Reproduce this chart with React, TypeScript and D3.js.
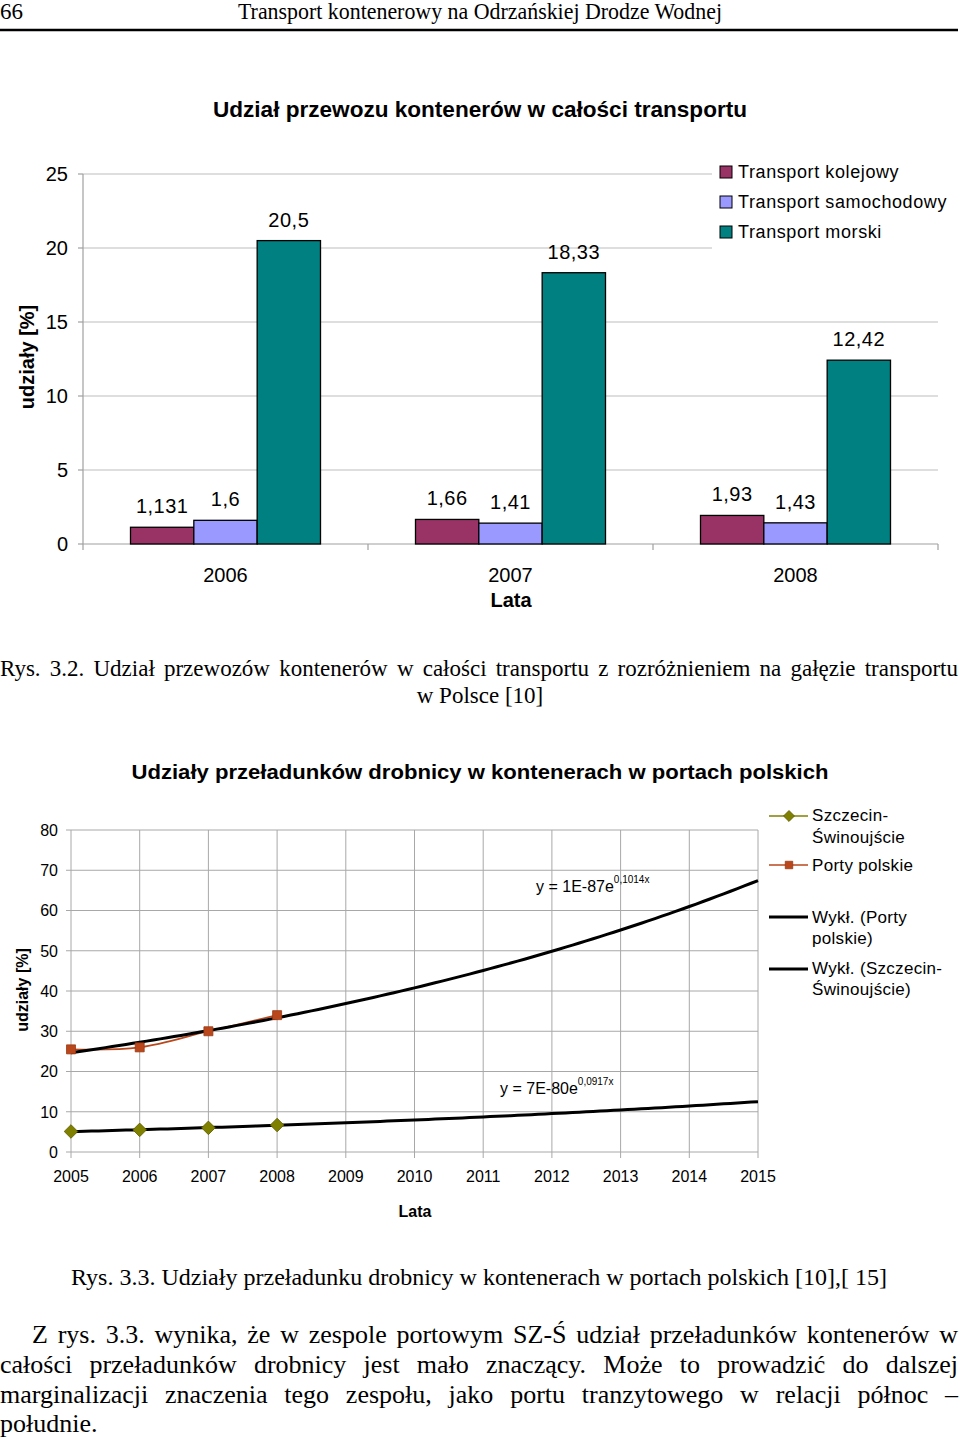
import React, { useEffect, useRef } from "react";
import * as d3 from "d3";

// ---------- Chart 1 data ----------
const years1 = ["2006", "2007", "2008"];
const series1 = ["Transport kolejowy", "Transport samochodowy", "Transport morski"];
const kolejowy = [1.131, 1.66, 1.93];
const samochodowy = [1.6, 1.41, 1.43];
const morski = [20.5, 18.33, 12.42];
const colors1 = ["#993366", "#9999FF", "#008080"];
const ticks1 = [0, 5, 10, 15, 20, 25];

// ---------- Chart 2 data ----------
const years2 = [2005, 2006, 2007, 2008, 2009, 2010, 2011, 2012, 2013, 2014, 2015];
const dataYears = [2005, 2006, 2007, 2008];
const portyPolskie = [25.5, 26.0, 30.0, 34.0];
const szczecinSwinoujscie = [5.1, 5.5, 6.0, 6.7];
const ticks2 = [0, 10, 20, 30, 40, 50, 60, 70, 80];
const eqPorty = ["y = 1E-87e", "0,1014x"];
const eqSzczecin = ["y = 7E-80e", "0,0917x"];

const SANS = "'Liberation Sans', Arial, sans-serif";
const SERIF = "'Liberation Serif', 'Times New Roman', serif";

const para = [
  "Z rys. 3.3. wynika, że w zespole portowym SZ-Ś udział przeładunków kontenerów w",
  "całości przeładunków drobnicy jest mało znaczący. Może to prowadzić do dalszej",
  "marginalizacji znaczenia tego zespołu, jako portu tranzytowego w relacji północ –",
  "południe.",
];

function expFit(xs: number[], ys: number[]) {
  const lx = xs.map((x) => x - xs[0]);
  const ly = ys.map((y) => Math.log(y));
  const mx = d3.mean(lx) as number;
  const my = d3.mean(ly) as number;
  let num = 0, den = 0;
  lx.forEach((x, i) => { num += (x - mx) * (ly[i] - my); den += (x - mx) * (x - mx); });
  const b = num / den;
  const a = my - b * mx;
  return (x: number) => Math.exp(a + b * (x - xs[0]));
}

export default function App() {
  const ref = useRef<SVGSVGElement>(null);
  useEffect(() => {
    const svg = d3.select(ref.current);
    svg.selectAll("*").remove();

    const justify = (text: string, x0: number, x1: number, y: number, size: number) => {
      const g = svg.append("g");
      const words = text.split(" ");
      const nodes = words.map((w) =>
        g.append("text").attr("y", y).attr("font-family", SERIF).attr("font-size", size).attr("fill", "#000").text(w)
      );
      const widths = nodes.map((n) => (n.node() as SVGTextElement).getComputedTextLength());
      const total = d3.sum(widths);
      const gap = words.length > 1 ? (x1 - x0 - total) / (words.length - 1) : 0;
      let x = x0;
      nodes.forEach((n, i) => { n.attr("x", x); x += widths[i] + gap; });
    };

    // ---------- Header ----------
    svg.append("text").attr("x", 0).attr("y", 19).attr("font-family", SERIF).attr("font-size", 23).text("66");
    svg.append("text").attr("x", 480).attr("y", 19).attr("text-anchor", "middle").attr("font-family", SERIF)
      .attr("font-size", 23).attr("textLength", 484).attr("lengthAdjust", "spacingAndGlyphs")
      .text("Transport kontenerowy na Odrzańskiej Drodze Wodnej");
    svg.append("line").attr("x1", 0).attr("x2", 958).attr("y1", 30).attr("y2", 30).attr("stroke", "#000").attr("stroke-width", 2.5);

    // ---------- Chart 1 ----------
    svg.append("text").attr("x", 480).attr("y", 117).attr("text-anchor", "middle").attr("font-family", SANS)
      .attr("font-weight", "bold").attr("font-size", 22).attr("textLength", 534).attr("lengthAdjust", "spacingAndGlyphs")
      .text("Udział przewozu kontenerów w całości transportu");

    const x0 = d3.scaleBand<string>().domain(years1).range([83, 938]).padding(0);
    const x1 = d3.scaleBand<string>().domain(series1).range([0, x0.bandwidth()]).paddingInner(0).paddingOuter(0.75);
    const y1 = d3.scaleLinear().domain([0, 25]).range([544, 174]);
    const g1 = svg.append("g");

    ticks1.forEach((t) => {
      if (t > 0) g1.append("line").attr("x1", 83).attr("x2", 938).attr("y1", y1(t)).attr("y2", y1(t)).attr("stroke", "#BDBDBD").attr("stroke-width", 1.2);
      g1.append("line").attr("x1", 78).attr("x2", 83).attr("y1", y1(t)).attr("y2", y1(t)).attr("stroke", "#A0A0A0").attr("stroke-width", 1.2);
      g1.append("text").attr("x", 68).attr("y", y1(t)).attr("dy", "0.36em").attr("text-anchor", "end")
        .attr("font-family", SANS).attr("font-size", 20).text(String(t));
    });
    g1.append("line").attr("x1", 83).attr("x2", 83).attr("y1", y1(25)).attr("y2", y1(0)).attr("stroke", "#A0A0A0").attr("stroke-width", 1.2);
    g1.append("line").attr("x1", 83).attr("x2", 938).attr("y1", y1(0)).attr("y2", y1(0)).attr("stroke", "#A0A0A0").attr("stroke-width", 1.2);
    [...years1.map((c) => x0(c) as number), 938].forEach((bx) => {
      g1.append("line").attr("x1", bx).attr("x2", bx).attr("y1", y1(0)).attr("y2", y1(0) + 6).attr("stroke", "#A0A0A0").attr("stroke-width", 1.2);
    });

    const vals1 = [kolejowy, samochodowy, morski];
    series1.forEach((s, si) => {
      years1.forEach((c, ci) => {
        const v = vals1[si][ci];
        const bx = (x0(c) as number) + (x1(s) as number);
        g1.append("rect").attr("x", bx).attr("y", y1(v)).attr("width", x1.bandwidth()).attr("height", y1(0) - y1(v))
          .attr("fill", colors1[si]).attr("stroke", "#000").attr("stroke-width", 1.3);
        g1.append("text").attr("x", bx + x1.bandwidth() / 2).attr("y", y1(v) - 14).attr("text-anchor", "middle")
          .attr("font-family", SANS).attr("font-size", 20).attr("letter-spacing", 0.5).text(String(v).replace(".", ","));
      });
    });
    years1.forEach((c) => {
      g1.append("text").attr("x", (x0(c) as number) + x0.bandwidth() / 2).attr("y", 582).attr("text-anchor", "middle")
        .attr("font-family", SANS).attr("font-size", 20).text(c);
    });
    g1.append("text").attr("x", 511).attr("y", 607).attr("text-anchor", "middle").attr("font-family", SANS)
      .attr("font-weight", "bold").attr("font-size", 20).text("Lata");
    g1.append("text").attr("transform", "translate(34,357) rotate(-90)").attr("text-anchor", "middle").attr("font-family", SANS)
      .attr("font-weight", "bold").attr("font-size", 20).text("udziały [%]");

    // legend 1
    g1.append("rect").attr("x", 712).attr("y", 156).attr("width", 248).attr("height", 96).attr("fill", "#fff");
    series1.forEach((s, i) => {
      const cy = 172 + i * 30;
      g1.append("rect").attr("x", 720).attr("y", cy - 6).attr("width", 12).attr("height", 12).attr("fill", colors1[i]).attr("stroke", "#000").attr("stroke-width", 1);
      g1.append("text").attr("x", 738).attr("y", cy).attr("dy", "0.36em").attr("font-family", SANS).attr("font-size", 18)
        .attr("letter-spacing", 0.6).text(s);
    });

    // caption 1
    justify("Rys. 3.2. Udział przewozów kontenerów w całości transportu z rozróżnieniem na gałęzie transportu", 0, 958, 676, 23);
    svg.append("text").attr("x", 480).attr("y", 703).attr("text-anchor", "middle").attr("font-family", SERIF).attr("font-size", 23).text("w Polsce [10]");

    // ---------- Chart 2 ----------
    svg.append("text").attr("x", 480).attr("y", 779).attr("text-anchor", "middle").attr("font-family", SANS)
      .attr("font-weight", "bold").attr("font-size", 20).attr("textLength", 697).attr("lengthAdjust", "spacingAndGlyphs")
      .text("Udziały przeładunków drobnicy w kontenerach w portach polskich");

    const x2 = d3.scaleLinear().domain([2005, 2015]).range([71, 758]);
    const y2 = d3.scaleLinear().domain([0, 80]).range([1152, 830]);
    const g2 = svg.append("g");
    const gridC = "#A8A8A8";
    years2.forEach((yr) => {
      g2.append("line").attr("x1", x2(yr)).attr("x2", x2(yr)).attr("y1", y2(80)).attr("y2", y2(0) + 6).attr("stroke", gridC).attr("stroke-width", 1);
      g2.append("text").attr("x", x2(yr)).attr("y", 1182).attr("text-anchor", "middle").attr("font-family", SANS).attr("font-size", 16).text(String(yr));
    });
    ticks2.forEach((t) => {
      g2.append("line").attr("x1", x2(2005) - 5).attr("x2", x2(2015)).attr("y1", y2(t)).attr("y2", y2(t)).attr("stroke", gridC).attr("stroke-width", 1);
      g2.append("text").attr("x", 58).attr("y", y2(t)).attr("dy", "0.36em").attr("text-anchor", "end").attr("font-family", SANS).attr("font-size", 16).text(String(t));
    });
    g2.append("text").attr("x", 415).attr("y", 1217).attr("text-anchor", "middle").attr("font-family", SANS)
      .attr("font-weight", "bold").attr("font-size", 16).text("Lata");
    g2.append("text").attr("transform", "translate(28,990) rotate(-90)").attr("text-anchor", "middle").attr("font-family", SANS)
      .attr("font-weight", "bold").attr("font-size", 16).text("udziały [%]");

    const portyC = "#B9471B";
    const oliveC = "#808000";
    const lineGen = d3.line<[number, number]>().x((d) => x2(d[0])).y((d) => y2(d[1])).curve(d3.curveCatmullRom.alpha(0.5));
    g2.append("path").attr("d", lineGen(dataYears.map((yr, i) => [yr, szczecinSwinoujscie[i]] as [number, number])))
      .attr("fill", "none").attr("stroke", oliveC).attr("stroke-width", 1.5);
    g2.append("path").attr("d", lineGen(dataYears.map((yr, i) => [yr, portyPolskie[i]] as [number, number])))
      .attr("fill", "none").attr("stroke", portyC).attr("stroke-width", 1.6);

    // exponential trendlines fitted to the data
    const fitP = expFit(dataYears, portyPolskie);
    const fitS = expFit(dataYears, szczecinSwinoujscie);
    const xsT = d3.range(2005, 2015.001, 0.1);
    const trendGen = d3.line<number>().x((d) => x2(d));
    g2.append("path").attr("d", trendGen.y((d) => y2(fitP(d)))(xsT)).attr("fill", "none").attr("stroke", "#000").attr("stroke-width", 3);
    g2.append("path").attr("d", trendGen.y((d) => y2(fitS(d)))(xsT)).attr("fill", "none").attr("stroke", "#000").attr("stroke-width", 3);

    const sq = d3.symbol().type(d3.symbolSquare).size(81);
    dataYears.forEach((yr, i) => {
      g2.append("path").attr("d", sq()).attr("transform", `translate(${x2(yr)},${y2(portyPolskie[i])})`)
        .attr("fill", portyC).attr("stroke", "#9A3A14").attr("stroke-width", 0.8);
      g2.append("path").attr("d", d3.symbol().type(d3.symbolSquare).size(92)()).attr("transform", `translate(${x2(yr)},${y2(szczecinSwinoujscie[i])}) rotate(45)`)
        .attr("fill", oliveC).attr("stroke", "#5E5E00").attr("stroke-width", 0.8);
    });

    const eq = (parts: string[], x: number, y: number) => {
      const t = g2.append("text").attr("x", x).attr("y", y).attr("font-family", SANS).attr("font-size", 16);
      t.append("tspan").text(parts[0]);
      t.append("tspan").attr("dy", -9).attr("font-size", 10).text(parts[1]);
    };
    eq(eqPorty, 536, 892);
    eq(eqSzczecin, 500, 1094);

    // legend 2
    const lg = svg.append("g").attr("font-family", SANS).attr("font-size", 17).attr("letter-spacing", 0.3);
    const lx0 = 769, lx1 = 808, tx = 812;
    lg.append("line").attr("x1", lx0).attr("x2", lx1).attr("y1", 816).attr("y2", 816).attr("stroke", oliveC).attr("stroke-width", 1.5);
    lg.append("path").attr("d", d3.symbol().type(d3.symbolSquare).size(60)()).attr("transform", `translate(789,816) rotate(45)`).attr("fill", oliveC).attr("stroke", "#5E5E00").attr("stroke-width", 0.8);
    lg.append("text").attr("x", tx).attr("y", 815).attr("dy", "0.36em").text("Szczecin-");
    lg.append("text").attr("x", tx).attr("y", 837).attr("dy", "0.36em").text("Świnoujście");
    lg.append("line").attr("x1", lx0).attr("x2", lx1).attr("y1", 865).attr("y2", 865).attr("stroke", portyC).attr("stroke-width", 1.5);
    lg.append("path").attr("d", d3.symbol().type(d3.symbolSquare).size(56)()).attr("transform", `translate(789,865)`).attr("fill", portyC).attr("stroke", "#9A3A14").attr("stroke-width", 0.8);
    lg.append("text").attr("x", tx).attr("y", 865).attr("dy", "0.36em").text("Porty polskie");
    lg.append("line").attr("x1", lx0).attr("x2", lx1).attr("y1", 917).attr("y2", 917).attr("stroke", "#000").attr("stroke-width", 3);
    lg.append("text").attr("x", tx).attr("y", 917).attr("dy", "0.36em").text("Wykł. (Porty");
    lg.append("text").attr("x", tx).attr("y", 938).attr("dy", "0.36em").text("polskie)");
    lg.append("line").attr("x1", lx0).attr("x2", lx1).attr("y1", 969).attr("y2", 969).attr("stroke", "#000").attr("stroke-width", 3);
    lg.append("text").attr("x", tx).attr("y", 968).attr("dy", "0.36em").text("Wykł. (Szczecin-");
    lg.append("text").attr("x", tx).attr("y", 989).attr("dy", "0.36em").text("Świnoujście)");

    // caption 2
    svg.append("text").attr("x", 479).attr("y", 1285).attr("text-anchor", "middle").attr("font-family", SERIF).attr("font-size", 23)
      .attr("textLength", 816).attr("lengthAdjust", "spacingAndGlyphs")
      .text("Rys. 3.3. Udziały przeładunku drobnicy w kontenerach w portach polskich [10],[ 15]");

    // paragraph
    justify(para[0], 32, 958, 1343, 26);
    justify(para[1], 0, 958, 1373, 26);
    justify(para[2], 0, 958, 1403, 26);
    svg.append("text").attr("x", 0).attr("y", 1432).attr("font-family", SERIF).attr("font-size", 26).text(para[3]);
  }, []);

  return (
    <svg ref={ref} width={960} height={1440} style={{ position: "absolute", left: 0, top: 0, background: "#fff" }} />
  );
}
